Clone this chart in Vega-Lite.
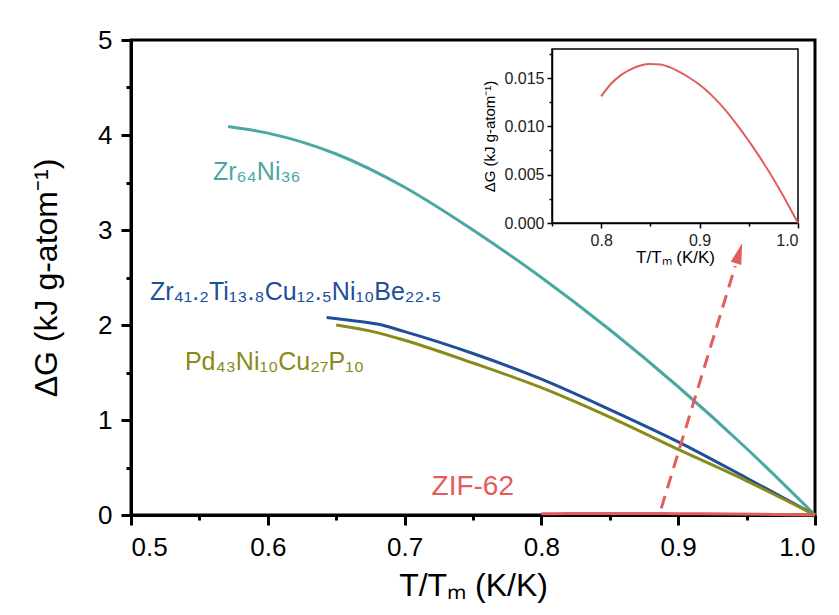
{
  "$schema": "https://vega.github.io/schema/vega-lite/v6.json",
  "width": 684,
  "height": 475,
  "autosize": {"type": "none"},
  "padding": {"left": 131, "top": 40, "right": 24, "bottom": 100},
  "background": "white",
  "config": {
    "view": {"stroke": "black", "strokeWidth": 3},
    "font": "Liberation Sans",
    "axis": {"labelFont": "Liberation Sans", "titleFont": "Liberation Sans", "domainColor": "black", "tickColor": "black", "labelColor": "black", "titleColor": "black", "grid": false, "titleFontWeight": "normal"},
    "text": {"font": "Liberation Sans"}
  },
  "datasets": {
    "curves": [
      {"series": "Zr64Ni36", "t": 0.571, "g": 4.09},
      {"series": "Zr64Ni36", "t": 0.60, "g": 4.02},
      {"series": "Zr64Ni36", "t": 0.65, "g": 3.80},
      {"series": "Zr64Ni36", "t": 0.70, "g": 3.45},
      {"series": "Zr64Ni36", "t": 0.75, "g": 3.00},
      {"series": "Zr64Ni36", "t": 0.80, "g": 2.50},
      {"series": "Zr64Ni36", "t": 0.85, "g": 1.95},
      {"series": "Zr64Ni36", "t": 0.90, "g": 1.35},
      {"series": "Zr64Ni36", "t": 0.95, "g": 0.70},
      {"series": "Zr64Ni36", "t": 1.00, "g": 0.0},
      {"series": "Zr41.2Ti13.8Cu12.5Ni10Be22.5", "t": 0.643, "g": 2.08},
      {"series": "Zr41.2Ti13.8Cu12.5Ni10Be22.5", "t": 0.66, "g": 2.05},
      {"series": "Zr41.2Ti13.8Cu12.5Ni10Be22.5", "t": 0.68, "g": 2.01},
      {"series": "Zr41.2Ti13.8Cu12.5Ni10Be22.5", "t": 0.70, "g": 1.93},
      {"series": "Zr41.2Ti13.8Cu12.5Ni10Be22.5", "t": 0.75, "g": 1.70},
      {"series": "Zr41.2Ti13.8Cu12.5Ni10Be22.5", "t": 0.80, "g": 1.43},
      {"series": "Zr41.2Ti13.8Cu12.5Ni10Be22.5", "t": 0.85, "g": 1.11},
      {"series": "Zr41.2Ti13.8Cu12.5Ni10Be22.5", "t": 0.90, "g": 0.77},
      {"series": "Zr41.2Ti13.8Cu12.5Ni10Be22.5", "t": 0.95, "g": 0.39},
      {"series": "Zr41.2Ti13.8Cu12.5Ni10Be22.5", "t": 1.00, "g": 0.0},
      {"series": "Pd43Ni10Cu27P10", "t": 0.650, "g": 2.00},
      {"series": "Pd43Ni10Cu27P10", "t": 0.68, "g": 1.92},
      {"series": "Pd43Ni10Cu27P10", "t": 0.70, "g": 1.84},
      {"series": "Pd43Ni10Cu27P10", "t": 0.75, "g": 1.60},
      {"series": "Pd43Ni10Cu27P10", "t": 0.80, "g": 1.34},
      {"series": "Pd43Ni10Cu27P10", "t": 0.85, "g": 1.03},
      {"series": "Pd43Ni10Cu27P10", "t": 0.90, "g": 0.69},
      {"series": "Pd43Ni10Cu27P10", "t": 0.95, "g": 0.36},
      {"series": "Pd43Ni10Cu27P10", "t": 1.00, "g": 0.0},
      {"series": "ZIF-62", "t": 0.80, "g": 0.0131},
      {"series": "ZIF-62", "t": 0.81, "g": 0.0144},
      {"series": "ZIF-62", "t": 0.82, "g": 0.0153},
      {"series": "ZIF-62", "t": 0.83, "g": 0.0159},
      {"series": "ZIF-62", "t": 0.84, "g": 0.0163},
      {"series": "ZIF-62", "t": 0.85, "g": 0.01645},
      {"series": "ZIF-62", "t": 0.86, "g": 0.0164},
      {"series": "ZIF-62", "t": 0.87, "g": 0.0161},
      {"series": "ZIF-62", "t": 0.88, "g": 0.0156},
      {"series": "ZIF-62", "t": 0.89, "g": 0.0150},
      {"series": "ZIF-62", "t": 0.90, "g": 0.0143},
      {"series": "ZIF-62", "t": 0.92, "g": 0.0124},
      {"series": "ZIF-62", "t": 0.94, "g": 0.0099},
      {"series": "ZIF-62", "t": 0.96, "g": 0.0070},
      {"series": "ZIF-62", "t": 0.98, "g": 0.0037},
      {"series": "ZIF-62", "t": 1.00, "g": 0.0}
    ],
    "labels": [
      {"series": "Zr64Ni36", "text": "Zr₆₄Ni₃₆", "t": 0.5599, "g": 3.526},
      {"series": "Zr41.2Ti13.8Cu12.5Ni10Be22.5", "text": "Zr₄₁.₂Ti₁₃.₈Cu₁₂.₅Ni₁₀Be₂₂.₅", "t": 0.5139, "g": 2.263},
      {"series": "Pd43Ni10Cu27P10", "text": "Pd₄₃Ni₁₀Cu₂₇P₁₀", "t": 0.5394, "g": 1.526}
    ],
    "ziflabel": [
      {"series": "ZIF-62", "text": "ZIF-62", "t": 0.7197, "g": 0.21}
    ],
    "arrow": [
      {"t": 0.8876, "g": 0.07},
      {"t": 0.9417, "g": 2.62}
    ],
    "arrowhead": [
      {"t": 0.9444, "g": 2.75}
    ],
    "insetframe": [
      {"t0": 0.75, "t1": 1.0, "g0": 0, "g1": 0.018}
    ]
  },
  "layer": [
    {
      "layer": [
        {
          "data": {"name": "curves"},
          "mark": {"type": "line", "strokeWidth": 3, "interpolate": "monotone"},
          "encoding": {
            "x": {
              "field": "t", "type": "quantitative",
              "scale": {"domain": [0.5, 1.0], "nice": false, "zero": false},
              "axis": {
                "orient": "bottom",
                "values": [0.5, 0.6, 0.7, 0.8, 0.9, 1.0],
                "format": ".1f",
                "tickSize": 10, "tickWidth": 3, "domainWidth": 3,
                "labelFontSize": 26, "labelPadding": 9,
                "title": "T/Tₘ (K/K)", "titleFontSize": 32, "titlePadding": 10
              }
            },
            "y": {
              "field": "g", "type": "quantitative",
              "scale": {"domain": [0, 5], "nice": false},
              "axis": {
                "orient": "left",
                "values": [0, 1, 2, 3, 4, 5],
                "format": "d",
                "tickSize": 10, "tickWidth": 3, "domainWidth": 3,
                "labelFontSize": 26, "labelPadding": 9,
                "title": "ΔG (kJ g-atom⁻¹)", "titleFontSize": 32, "titlePadding": 34
              }
            },
            "color": {
              "field": "series", "type": "nominal",
              "scale": {
                "domain": ["Zr64Ni36", "Zr41.2Ti13.8Cu12.5Ni10Be22.5", "Pd43Ni10Cu27P10", "ZIF-62"],
                "range": ["#4aa8a2", "#1d4f9a", "#8a8a18", "#e35d5d"]
              },
              "legend": null
            }
          }
        },
        {
          "data": {"name": "labels"},
          "mark": {"type": "text", "align": "left", "baseline": "alphabetic", "fontSize": 25},
          "encoding": {
            "x": {"field": "t", "type": "quantitative", "axis": null},
            "y": {"field": "g", "type": "quantitative", "axis": null},
            "text": {"field": "text"},
            "color": {"field": "series", "type": "nominal"}
          }
        },
        {
          "data": {"name": "ziflabel"},
          "mark": {"type": "text", "align": "left", "baseline": "alphabetic", "fontSize": 28},
          "encoding": {
            "x": {"field": "t", "type": "quantitative", "axis": null},
            "y": {"field": "g", "type": "quantitative", "axis": null},
            "text": {"field": "text"},
            "color": {"field": "series", "type": "nominal"}
          }
        },
        {
          "data": {"name": "arrow"},
          "mark": {"type": "line", "strokeWidth": 3, "strokeDash": [13, 8], "color": "#e35d5d"},
          "encoding": {
            "x": {
              "field": "t", "type": "quantitative",
              "axis": {"orient": "bottom", "values": [0.55, 0.65, 0.75, 0.85, 0.95], "labels": false, "domain": false, "tickSize": 5, "tickWidth": 3, "title": null}
            },
            "y": {
              "field": "g", "type": "quantitative",
              "axis": {"orient": "left", "values": [0.5, 1.5, 2.5, 3.5, 4.5], "labels": false, "domain": false, "tickSize": 5, "tickWidth": 3, "title": null}
            }
          }
        },
        {
          "data": {"name": "arrowhead"},
          "mark": {"type": "point", "shape": "M0,-1.1L0.55,1L-0.55,1Z", "size": 400, "angle": 17, "filled": true, "opacity": 1, "color": "#e35d5d"},
          "encoding": {
            "x": {"field": "t", "type": "quantitative", "axis": null},
            "y": {"field": "g", "type": "quantitative", "axis": null}
          }
        }
      ],
      "resolve": {"axis": {"x": "independent", "y": "independent"}}
    },
    {
      "layer": [
        {
          "data": {"name": "insetframe"},
          "mark": {"type": "rect", "fill": "transparent", "stroke": "black", "strokeWidth": 1.5},
          "encoding": {
            "x": {
              "field": "t0", "type": "quantitative",
              "scale": {"domain": [0.75, 1.0], "range": [421, 667], "nice": false, "zero": false},
              "axis": {
                "orient": "bottom", "offset": -292,
                "values": [0.8, 0.9, 1.0], "format": ".1f",
                "tickSize": 5, "tickWidth": 1.5, "domainWidth": 1.5,
                "labelFontSize": 16, "labelPadding": 4, "labelColor": "#222",
                "title": "T/Tₘ (K/K)", "titleFontSize": 17, "titlePadding": 1
              }
            },
            "x2": {"field": "t1"},
            "y": {
              "field": "g0", "type": "quantitative",
              "scale": {"domain": [0, 0.018], "range": [183, 9], "nice": false},
              "axis": {
                "orient": "left", "offset": -421,
                "values": [0, 0.005, 0.01, 0.015], "format": ".3f",
                "tickSize": 5, "tickWidth": 1.5, "domainWidth": 1.5,
                "labelFontSize": 16, "labelPadding": 3, "labelColor": "#222",
                "title": "ΔG (kJ g-atom⁻¹)", "titleFontSize": 15, "titlePadding": 6
              }
            },
            "y2": {"field": "g1"}
          }
        },
        {
          "data": {"name": "curves"},
          "transform": [{"filter": "datum.series == 'ZIF-62'"}],
          "mark": {"type": "line", "strokeWidth": 2, "color": "#e35d5d", "interpolate": "monotone"},
          "encoding": {
            "x": {
              "field": "t", "type": "quantitative",
              "axis": {"orient": "bottom", "offset": -292, "values": [0.75, 0.85, 0.95], "labels": false, "domain": false, "tickSize": 3, "tickWidth": 1.5, "title": null}
            },
            "y": {
              "field": "g", "type": "quantitative",
              "axis": {"orient": "left", "offset": -421, "values": [0.0025, 0.0075, 0.0125, 0.0175], "labels": false, "domain": false, "tickSize": 3, "tickWidth": 1.5, "title": null}
            }
          }
        }
      ],
      "resolve": {"axis": {"x": "independent", "y": "independent"}}
    }
  ],
  "resolve": {"scale": {"x": "independent", "y": "independent"}}
}
